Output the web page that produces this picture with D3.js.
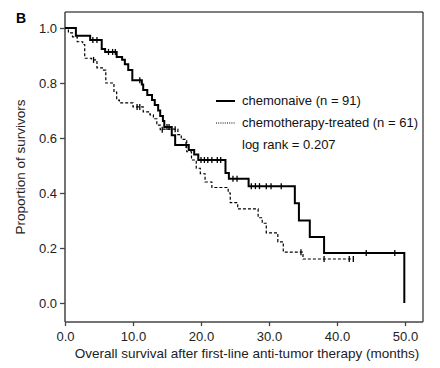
<!DOCTYPE html>
<html><head><meta charset="utf-8">
<script src="https://cdn.jsdelivr.net/npm/d3@7"></script>
<style>body{margin:0;background:#fff}svg{display:block}text{font-family:"Liberation Sans",Arial,sans-serif}</style>
</head><body>
<script>
// Chemonaive (n = 91): step times (months) and survival after each step
const naiveTimes = [0, 1.6, 3.7, 5.4, 5.9, 7.6, 8.4, 8.8, 9.3, 9.9, 11.3, 11.5, 12.1, 12.8, 13.2, 13.7, 14.0, 14.4, 14.6, 15.7, 16.2, 18.2, 19.0, 19.6, 23.6, 24.1, 27.0, 33.8, 34.4, 36.0, 38.1, 49.9];
const naiveSurv  = [1.0, 0.972, 0.956, 0.924, 0.913, 0.895, 0.885, 0.868, 0.847, 0.81, 0.795, 0.775, 0.756, 0.738, 0.72, 0.70, 0.68, 0.662, 0.64, 0.61, 0.575, 0.556, 0.54, 0.52, 0.473, 0.452, 0.425, 0.363, 0.30, 0.24, 0.182, 0.0];
const naiveCensor = [4.1, 4.7, 6.4, 7.0, 7.4, 11.0, 15.0, 15.3, 17.8, 20.0, 20.5, 21.0, 21.6, 22.4, 22.9, 24.7, 25.3, 27.4, 28.0, 28.6, 29.6, 30.3, 31.8, 44.3, 48.5];
// Chemotherapy-treated (n = 61)
const treatedTimes = [0, 0.5, 1.1, 1.8, 2.6, 2.9, 3.9, 4.7, 5.5, 6.0, 7.2, 7.6, 8.0, 10.0, 11.5, 12.5, 13.0, 13.5, 14.0, 14.4, 16.6, 17.1, 17.9, 18.6, 19.3, 19.9, 20.6, 21.6, 24.0, 24.3, 25.4, 28.4, 29.0, 29.6, 31.3, 32.1, 35.0, 42.4];
const treatedSurv  = [1.0, 0.982, 0.968, 0.95, 0.94, 0.89, 0.884, 0.855, 0.847, 0.80, 0.767, 0.738, 0.728, 0.713, 0.695, 0.684, 0.67, 0.647, 0.63, 0.632, 0.612, 0.595, 0.55, 0.52, 0.49, 0.47, 0.44, 0.42, 0.40, 0.365, 0.342, 0.31, 0.29, 0.255, 0.222, 0.185, 0.16, 0.16];
const treatedCensor = [4.2, 10.6, 11.0, 14.3, 16.2, 34.7, 38.1, 41.8, 42.4];

const xTicks = [0, 10, 20, 30, 40, 50];
const yTicks = [0, 0.2, 0.4, 0.6, 0.8, 1.0];
const legendLabels = ["chemonaive (n = 91)", "chemotherapy-treated (n = 61)", "log rank = 0.207"];
const panelLabel = "B";
const xTitle = "Overall survival after first-line anti-tumor therapy (months)";
const yTitle = "Proportion of survivors";

const W = 440, H = 368;
const svg = d3.select("body").append("svg").attr("width", W).attr("height", H);
const x = d3.scaleLinear().domain([0, 50]).range([65, 405]);
const y = d3.scaleLinear().domain([0, 1]).range([303, 28]);
const frame = {l: 65, r: 423, t: 12, b: 322};

// frame
svg.append("line").attr("x1", frame.l).attr("x2", frame.r).attr("y1", frame.t).attr("y2", frame.t).attr("stroke", "#000").attr("stroke-width", 1);
svg.append("line").attr("x1", frame.r).attr("x2", frame.r).attr("y1", frame.t).attr("y2", frame.b).attr("stroke", "#000").attr("stroke-width", 1);
svg.append("line").attr("x1", frame.l).attr("x2", frame.l).attr("y1", frame.t).attr("y2", frame.b).attr("stroke", "#444").attr("stroke-width", 1.5);
svg.append("line").attr("x1", frame.l).attr("x2", frame.r).attr("y1", frame.b).attr("y2", frame.b).attr("stroke", "#444").attr("stroke-width", 1.5);

// axes
const yAxis = svg.append("g").attr("transform", `translate(${frame.l},0)`)
  .call(d3.axisLeft(y).tickValues(yTicks).tickFormat(d3.format(".1f")).tickSize(5).tickPadding(3));
const xAxis = svg.append("g").attr("transform", `translate(0,${frame.b})`)
  .call(d3.axisBottom(x).tickValues(xTicks).tickFormat(d3.format(".1f")).tickSize(4).tickPadding(6));
[yAxis, xAxis].forEach(g => {
  g.select(".domain").remove();
  g.selectAll(".tick line").attr("stroke", "#444").attr("stroke-width", 1.3);
  g.selectAll(".tick text").attr("fill", "#222").style("font-size", "13px").style("font-family", "Liberation Sans, Arial, sans-serif");
});

// titles
svg.append("text").attr("x", 16).attr("y", 23).text(panelLabel).style("font-weight", "bold").style("font-size", "14px");
svg.append("text").attr("x", 247).attr("y", 358).attr("text-anchor", "middle").text(xTitle).style("font-size", "13.5px").attr("fill", "#222");
svg.append("text").attr("transform", "translate(25,167) rotate(-90)").attr("text-anchor", "middle").text(yTitle).style("font-size", "13.5px").attr("fill", "#222");

// curves
function steps(times, surv) { return times.map((t, i) => [t, surv[i]]); }
function survAt(times, surv, t) { let s = surv[0]; for (let i = 0; i < times.length; i++) if (times[i] <= t) s = surv[i]; return s; }
const line = d3.line().x(d => x(d[0])).y(d => y(d[1])).curve(d3.curveStepAfter);

const series = [
  {times: naiveTimes, surv: naiveSurv, cens: naiveCensor, width: 2, dash: null},
  {times: treatedTimes, surv: treatedSurv, cens: treatedCensor, width: 1.2, dash: "3,2"}
];
series.forEach(s => {
  svg.append("path").attr("d", line(steps(s.times, s.surv))).attr("fill", "none")
    .attr("stroke", "#000").attr("stroke-width", s.width).attr("stroke-dasharray", s.dash);
  svg.append("g").selectAll("line").data(s.cens).join("line")
    .attr("x1", d => x(d)).attr("x2", d => x(d))
    .attr("y1", d => y(survAt(s.times, s.surv, d)) - 3).attr("y2", d => y(survAt(s.times, s.surv, d)) + 3)
    .attr("stroke", "#000").attr("stroke-width", 1.3);
});

// legend
const lg = svg.append("g");
lg.append("line").attr("x1", 216).attr("x2", 235).attr("y1", 101).attr("y2", 101).attr("stroke", "#000").attr("stroke-width", 2);
lg.append("line").attr("x1", 216).attr("x2", 235).attr("y1", 123).attr("y2", 123).attr("stroke", "#000").attr("stroke-width", 1).attr("stroke-dasharray", "1,1.2");
legendLabels.forEach((t, i) => {
  lg.append("text").attr("x", 242).attr("y", 105 + i * 22).text(t).style("font-size", "13px").attr("fill", "#111");
});
</script>
</body></html>
